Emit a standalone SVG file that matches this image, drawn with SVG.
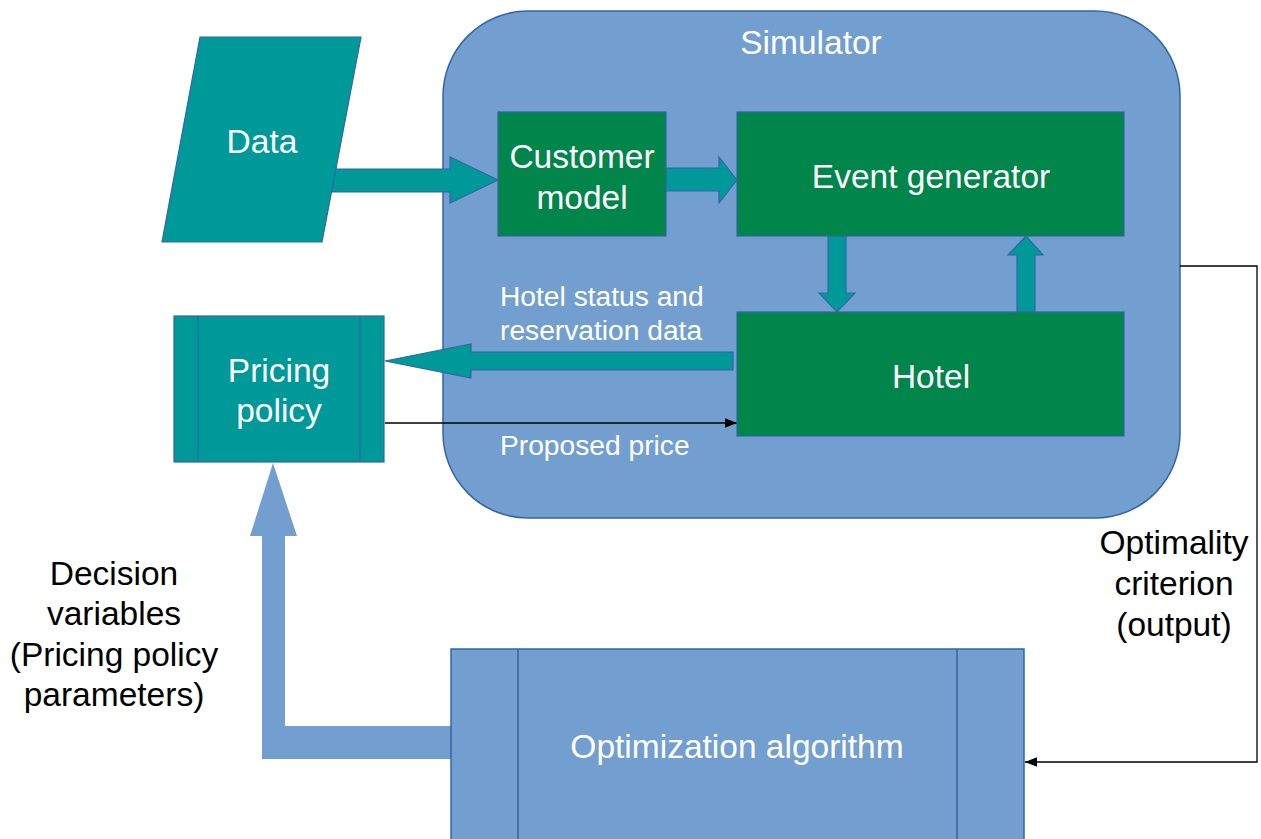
<svg xmlns="http://www.w3.org/2000/svg" width="1261" height="839" viewBox="0 0 1261 839">
<defs>
<style>
.sim{fill:#729fcf;stroke:#3465a4;stroke-width:1.5}
.green{fill:#00854a;stroke:#3465a4;stroke-width:1.2}
.teal{fill:#009999;stroke:#3465a4;stroke-width:1.2}
.blue{fill:#729fcf;stroke:#3465a4;stroke-width:1.5}
.barrow{fill:#729fcf;stroke:none}
.line{fill:none;stroke:#000;stroke-width:1.3}
.big{font-family:"Liberation Sans",Arial,sans-serif;font-size:33.5px;text-anchor:middle}
.small{font-family:"Liberation Sans",Arial,sans-serif;font-size:28.2px}
.w{fill:#ffffff}
.k{fill:#000000}
</style>
<marker id="ah" viewBox="0 0 10 10" refX="10" refY="5" markerWidth="12" markerHeight="12" markerUnits="userSpaceOnUse" orient="auto">
<path d="M0,1 L10,5 L0,9 z" fill="#000"/>
</marker>
</defs>
<rect width="1261" height="839" fill="#ffffff"/>

<g id="simulator">
<rect class="sim" x="443" y="11" width="737" height="507" rx="85" ry="85"/>
<text class="big w" x="811" y="54">Simulator</text>
</g>

<g id="connectors">
<polygon class="teal" points="325,169 450,169 450,157 498,180 450,203 450,192 325,192"/>
<polygon class="teal" points="666,168 719,168 719,157 737,180 719,203 719,191 666,191"/>
<polygon class="teal" points="828,236 846,236 846,293 855,293 837,312 819,293 828,293"/>
<polygon class="teal" points="1026,236 1043,255 1035,255 1035,312 1017,312 1017,255 1008,255"/>
<polygon class="teal" points="733,352 471,352 471,344 385,361 471,378 471,370 733,370"/>
<line class="line" x1="385" y1="423" x2="737" y2="423" marker-end="url(#ah)"/>
<polyline class="line" points="1180,266 1257,266 1257,762 1025,762" marker-end="url(#ah)"/>
<polygon class="barrow" points="273,463 297,536 285,536 285,726 452,726 452,759 262,759 262,536 250,536"/>
<text class="small w" x="500" y="306">Hotel status and</text>
<text class="small w" x="500" y="340">reservation data</text>
<text class="small w" x="500" y="455">Proposed price</text>
<text class="big k" x="1174" y="554">Optimality</text>
<text class="big k" x="1174" y="595">criterion</text>
<text class="big k" x="1174" y="636">(output)</text>
<text class="big k" x="114" y="585">Decision</text>
<text class="big k" x="114" y="625">variables</text>
<text class="big k" x="114" y="666">(Pricing policy</text>
<text class="big k" x="114" y="706">parameters)</text>
</g>

<g id="data">
<polygon class="teal" points="200,37 361,37 322,242 162,242"/>
<text class="big w" x="262" y="153">Data</text>
</g>

<g id="customer-model">
<rect class="green" x="498" y="112" width="168" height="124"/>
<text class="big w" x="582" y="168">Customer</text>
<text class="big w" x="582" y="209">model</text>
</g>

<g id="event-generator">
<rect class="green" x="737" y="112" width="387" height="124"/>
<text class="big w" x="931" y="188">Event generator</text>
</g>

<g id="hotel">
<rect class="green" x="737" y="312" width="387" height="124"/>
<text class="big w" x="931" y="388">Hotel</text>
</g>

<g id="pricing-policy">
<rect class="teal" x="174" y="316" width="210" height="146"/>
<line x1="198" y1="316" x2="198" y2="462" stroke="#3465a4" stroke-width="1.2"/>
<line x1="360" y1="316" x2="360" y2="462" stroke="#3465a4" stroke-width="1.2"/>
<text class="big w" x="279" y="382">Pricing</text>
<text class="big w" x="279" y="422">policy</text>
</g>

<g id="optimization-algorithm">
<rect class="blue" x="451" y="649" width="573" height="200"/>
<line x1="518" y1="649" x2="518" y2="839" stroke="#3465a4" stroke-width="1.5"/>
<line x1="957" y1="649" x2="957" y2="839" stroke="#3465a4" stroke-width="1.5"/>
<text class="big w" x="737" y="758">Optimization algorithm</text>
</g>
</svg>
